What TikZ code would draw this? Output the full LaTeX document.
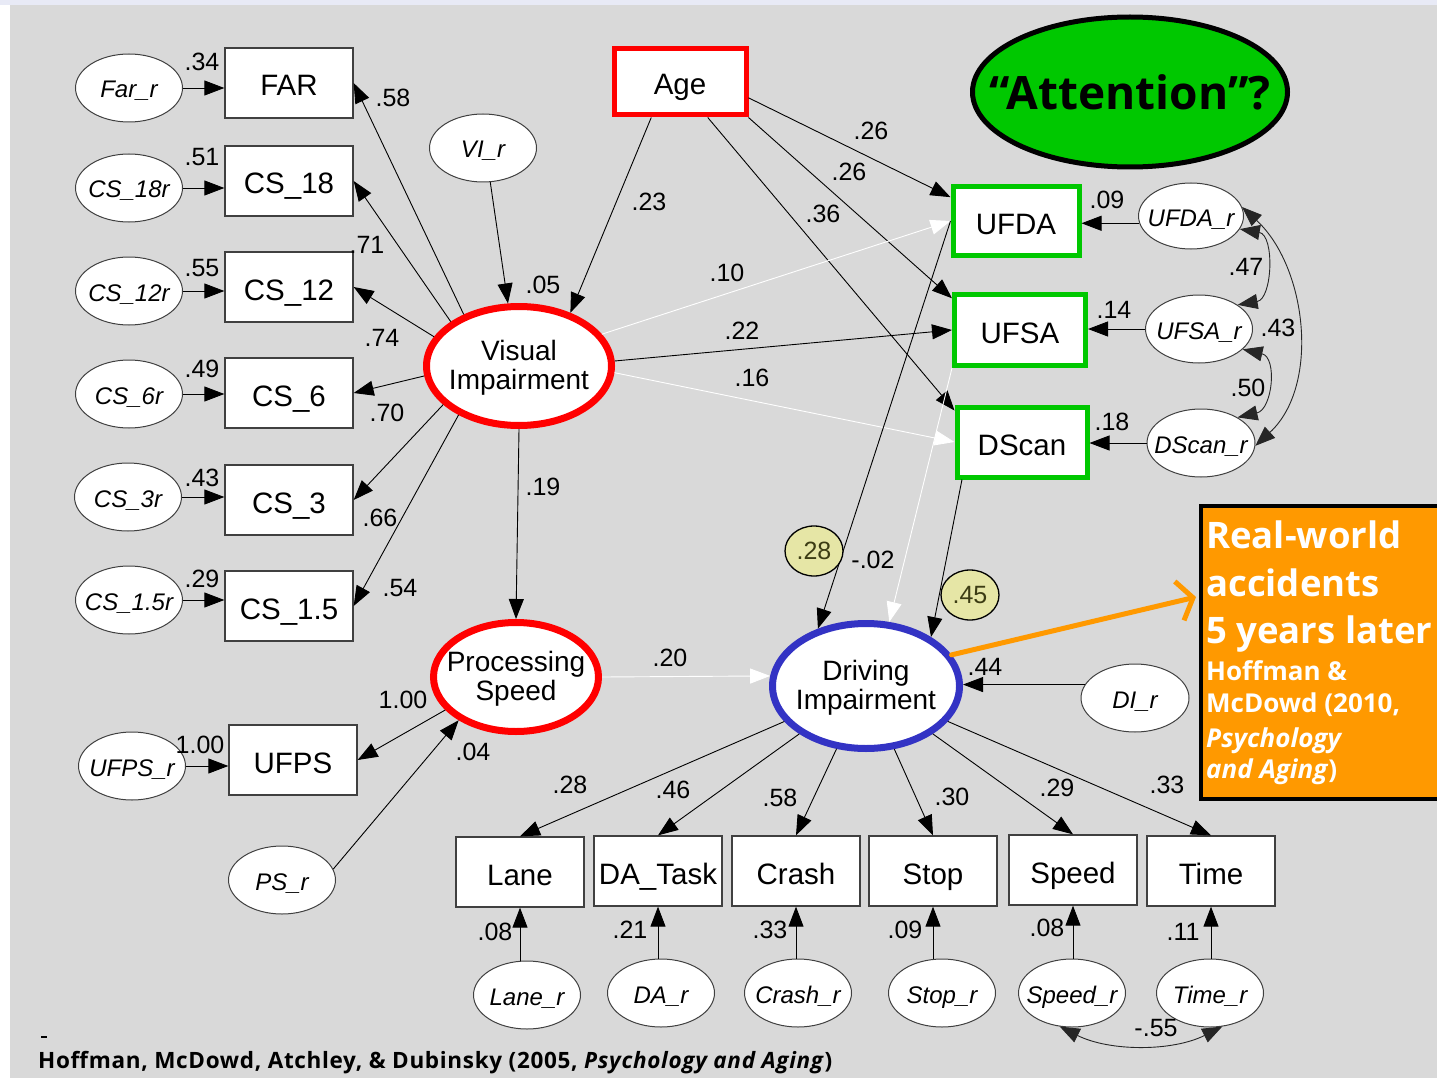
\documentclass[tikz,border=0pt]{standalone}
\usepackage{fontspec}
\setmainfont{Liberation Sans}
\newfontfamily\segoe{Open Sans}
\newfontfamily\segoewide{Open Sans}[LetterSpace=3]
\usetikzlibrary{shapes.geometric,arrows.meta,calc}

\definecolor{panel}{HTML}{D9D9D9}
\definecolor{topstrip}{HTML}{E8EAF6}
\definecolor{frame}{HTML}{404040}
\definecolor{vired}{HTML}{FF0000}
\definecolor{diblue}{HTML}{3333C4}
\definecolor{boxgreen}{HTML}{00C800}
\definecolor{noteorange}{HTML}{FF9900}
\definecolor{khaki}{HTML}{E6E6A6}
\definecolor{khakitext}{HTML}{3C3C14}

\newcommand\setfs[1]{\fontsize{#1}{#1}\selectfont}
\newcommand\zw[1]{\makebox[0pt]{#1}}

\begin{document}
\begin{tikzpicture}[x=1pt,y=-1pt,
  obs/.style={rectangle,draw=frame,fill=white,line width=1.3pt,
    minimum width=128pt,minimum height=70pt,inner sep=0pt,
    text height=26pt,text depth=0pt,font=\setfs{29.5}},
  err/.style={ellipse,draw=frame,fill=white,line width=1pt,
    minimum width=107pt,minimum height=68pt,inner sep=0pt,
    text height=20pt,text depth=0pt,font=\setfs{24}\itshape},
  lat/.style={ellipse,fill=white,line width=7pt,inner sep=0pt},
  lattext/.style={align=center,inner sep=0pt,font=\fontsize{28}{29}\selectfont},
  coef/.style={inner sep=0pt,font=\setfs{25}},
  rsq/.style={ellipse,draw=black,fill=khaki,line width=1.3pt,minimum width=58pt,
    minimum height=50pt,inner sep=0pt,text=khakitext,font=\setfs{25}},
  link/.style={draw=black,line width=0.9pt,-{Triangle[length=20pt,width=15pt]}},
  wlink/.style={draw=white,line width=0.9pt,-{Triangle[length=20pt,width=15pt]}},
  cov/.style={draw=black!85,line width=0.9pt,
    {Triangle[length=20pt,width=15pt]}-{Triangle[length=20pt,width=15pt]}},
  notebig/.style={anchor=base west,inner sep=0pt,text=white,font=\segoe\bfseries\setfs{36.5}},
  notesmall/.style={anchor=base west,inner sep=0pt,text=white,font=\segoe\bfseries\setfs{26}},
]
\useasboundingbox (0,0) rectangle (1437,1078);
\fill[white] (0,0) rectangle (1437,1078);
\fill[topstrip] (0,0) rectangle (1437,5);
\fill[panel] (10,5) rectangle (1437,1078);

% ---------- indicators of visual impairment ----------
\node[obs] (far)  at (289,83)  {FAR};
\node[obs] (cs18) at (289,181) {CS\_18};
\node[obs] (cs12) at (289,287) {CS\_12};
\node[obs] (cs6)  at (289,393) {CS\_6};
\node[obs] (cs3)  at (289,500) {CS\_3};
\node[obs] (cs15) at (289,606) {CS\_1.5};
\node[obs] (ufps) at (293,760) {UFPS};

\node[err] (farr)  at (129,88)  {\zw{Far\_r}};
\node[err] (cs18r) at (129,188) {\zw{CS\_18r}};
\node[err] (cs12r) at (129,291) {\zw{CS\_12r}};
\node[err] (cs6r)  at (129,394) {\zw{CS\_6r}};
\node[err] (cs3r)  at (128,497) {\zw{CS\_3r}};
\node[err] (cs15r) at (129,600) {\zw{CS\_1.5r}};
\node[err] (ufpsr) at (132,766) {\zw{UFPS\_r}};
\node[err] (psr)   at (282,880) {\zw{PS\_r}};
\node[err] (vir)   at (483,148) {\zw{VI\_r}};

% ---------- age and latent variables ----------
\node[rectangle,draw=vired,fill=white,line width=5pt,minimum width=132pt,
  minimum height=66pt,inner sep=0pt,text height=26pt,text depth=0pt,
  font=\setfs{29.5}] (age) at (680,82) {Age};

\node[lat,draw=vired,minimum width=185pt,minimum height=119pt] (vi) at (519,366) {};
\node[lattext] (vi-t) at ($(vi)+(0,2)$) {Visual\\Impairment};
\node[lat,draw=vired,minimum width=165pt,minimum height=109pt] (ps) at (516,677) {};
\node[lattext] (ps-t) at ($(ps)+(0,2)$) {Processing\\Speed};
\node[lat,draw=diblue,minimum width=187pt,minimum height=125pt] (di) at (866,686) {};
\node[lattext] (di-t) at ($(di)+(0,2)$) {Driving\\Impairment};

\node[ellipse,draw=black,fill=boxgreen,line width=5pt,minimum width=315pt,
  minimum height=150pt,inner sep=0pt,font=\segoe\bfseries\setfs{46}] (attn) at (1130,92)
  {\zw{“Attention”?}};

% ---------- attention tasks ----------
\node[obs,draw=boxgreen,line width=5pt,minimum width=126pt,minimum height=68pt] (ufda) at (1016,221) {UFDA};
\node[obs,draw=boxgreen,line width=5pt,minimum width=131pt,minimum height=71pt] (ufsa) at (1020,330) {UFSA};
\node[obs,draw=boxgreen,line width=5pt,minimum width=130pt,minimum height=70pt] (dscan) at (1022,442) {DScan};

\node[err,minimum width=105pt,minimum height=66pt] (ufdar)  at (1191,216) {\zw{UFDA\_r}};
\node[err,minimum width=107pt,minimum height=68pt] (ufsar)  at (1199,329) {\zw{UFSA\_r}};
\node[err,minimum width=108pt,minimum height=68pt] (dscanr) at (1201,443) {\zw{DScan\_r}};
\node[err,minimum width=108pt,minimum height=68pt] (dir)    at (1135,698) {\zw{DI\_r}};

% ---------- driving indicators ----------
\node[obs] (lane)   at (520,872)  {Lane};
\node[obs] (datask) at (658,871)  {DA\_Task};
\node[obs] (crash)  at (796,871)  {Crash};
\node[obs] (stop)   at (933,871)  {Stop};
\node[obs] (speed)  at (1073,870) {Speed};
\node[obs] (time)   at (1211,871) {Time};

\node[err] (laner)  at (527,995)  {\zw{Lane\_r}};
\node[err] (dar)    at (661,993)  {\zw{DA\_r}};
\node[err] (crashr) at (798,993)  {\zw{Crash\_r}};
\node[err] (stopr)  at (942,993)  {\zw{Stop\_r}};
\node[err] (speedr) at (1072,993) {\zw{Speed\_r}};
\node[err] (timer)  at (1210,993) {\zw{Time\_r}};

% ---------- residual paths ----------
\foreach \e/\o in {farr/far,cs18r/cs18,cs12r/cs12,cs6r/cs6,cs3r/cs3,cs15r/cs15,ufpsr/ufps}
  \draw[link] (\e.east) -- (\o.west |- \e.east);
\draw[link] (ufdar.188) -- (ufda.east |- ufdar.188);
\draw[link] (ufsar.west) -- (ufsa.east |- ufsar.west);
\draw[link] (dscanr.west) -- (dscan.east |- dscanr.west);
\foreach \e/\o in {laner/lane,dar/datask,crashr/crash,stopr/stop,speedr/speed,timer/time}
  \draw[link] (\o.south |- \e.north) -- (\o.south);
\draw[link] (dir.165) -- (di.east |- dir.165);
\draw[link] (vir.-78) -- (vi.100);
\draw[link] (psr.12) -- (ps.-143);

% ---------- loadings of visual impairment ----------
\draw[link] (vi.137) -- (far.east);
\draw[link] (vi.147) -- (cs18.east);
\draw[link] (vi.161) -- (cs12.east);
\draw[link] (vi.186) -- (cs6.east);
\draw[link] (vi.207) -- (cs3.east);
\draw[link] (vi.219) -- (cs15.east);
\draw[link] (ps.-155) -- (ufps.east);

% ---------- structural paths ----------
\draw[link] (age.-129) -- (vi.46);
\draw[link] (age.-13) -- (ufda.160);
\draw[link] (age.south east) -- (ufsa.155);
\draw[link] (age.-52) -- (dscan.155);
\draw[wlink] (vi.21) -- (ufda.west);
\draw[link] (vi.3) -- (ufsa.west);
\draw[wlink] (vi.-4) -- (dscan.west);
\draw[link] (vi.south) -- (ps.north);
\draw[wlink] (ps.east) -- (di.174);
\draw[link] (ufda.west) -- (di.130);
\draw[wlink] (ufsa.south west) -- (di.70);
\draw[link] (dscan.-148) -- (di.37);

\foreach \o in {lane,datask,crash,stop,speed,time}
  \draw[link] (di) -- (\o.north);

% ---------- residual covariances ----------
\draw[cov] (ufdar.-15) .. controls +(35,6) and +(35,-6) .. (ufsar.32);
\draw[cov] (ufsar.-25) .. controls +(35,8) and +(35,-8) .. (dscanr.35);
\draw[cov] (ufdar.10) .. controls +(65,60) and +(65,-60) .. (dscanr.-3);
\draw[cov] (speedr.-110) .. controls +(50,25) and +(-50,25) .. (timer.-70);

% ---------- explained variance ----------
\node[rsq] (r2a) at (814,551) {.28};
\node[rsq] (r2b) at (970,595) {.45};

% ---------- coefficients ----------
\foreach \x/\y/\t [count=\k] in {
  202/62/.34, 202/157/.51, 202/268/.55, 202/369/.49, 202/478/.43, 202/579/.29, 200/745/1.00,
  393/98/.58, 367/245/.71, 382/338/.74, 387/413/.70, 380/518/.66, 400/588/.54,
  403/700/1.00, 473/752/.04,
  543/285/.05, 649/202/.23, 871/131/.26, 849/172/.26, 823/214/.36,
  727/273/.10, 742/331/.22, 752/378/.16, 543/487/.19, 670/658/.20,
  873/560/-.02, 985/667/.44,
  1107/200/.09, 1114/310/.14, 1112/422/.18, 1246/267/.47, 1278/328/.43, 1248/388/.50,
  570/785/.28, 673/790/.46, 780/798/.58, 952/797/.30, 1057/788/.29, 1167/785/.33,
  495/932/.08, 630/930/.21, 770/930/.33, 905/930/.09, 1047/928/.08, 1183/932/.11,
  1156/1028/-.55}
  \node[coef] (c\k) at (\x,\y) {\t};

% ---------- follow-up note ----------
\node[rectangle,draw=black,fill=noteorange,line width=4pt,anchor=north west,
  minimum width=262pt,minimum height=293pt,inner sep=0pt] (note) at (1199,504) {};
\node[notebig] (n1) at (1206,548) {Real-world};
\node[notebig] (n2) at (1206,596) {accidents};
\node[notebig] (n3) at (1206,643) {5 years later};
\node[notesmall] (n4) at (1206,680) {Hoffman \&};
\node[notesmall] (n5) at (1206,712) {McDowd (2010,};
\node[notesmall] (n6) at (1206,747) {\textit{Psychology}};
\node[notesmall] (n7) at (1206,778) {\textit{and Aging})};
\coordinate (noteend) at (1196,597);
\draw[noteorange,line width=5pt,line cap=round,
  -{Straight Barb[length=14pt,width=40pt,line width=5pt]}]
  (di.20) -- (noteend);

% ---------- citation ----------
\draw[line width=1.2pt] (41,1037) -- (47,1037);
\node[anchor=base west,inner sep=0pt,font=\segoewide\bfseries\setfs{22.5}] (cite) at (38,1068)
  {Hoffman, McDowd, Atchley, \& Dubinsky (2005, \textit{Psychology and Aging})};
\end{tikzpicture}
\end{document}
